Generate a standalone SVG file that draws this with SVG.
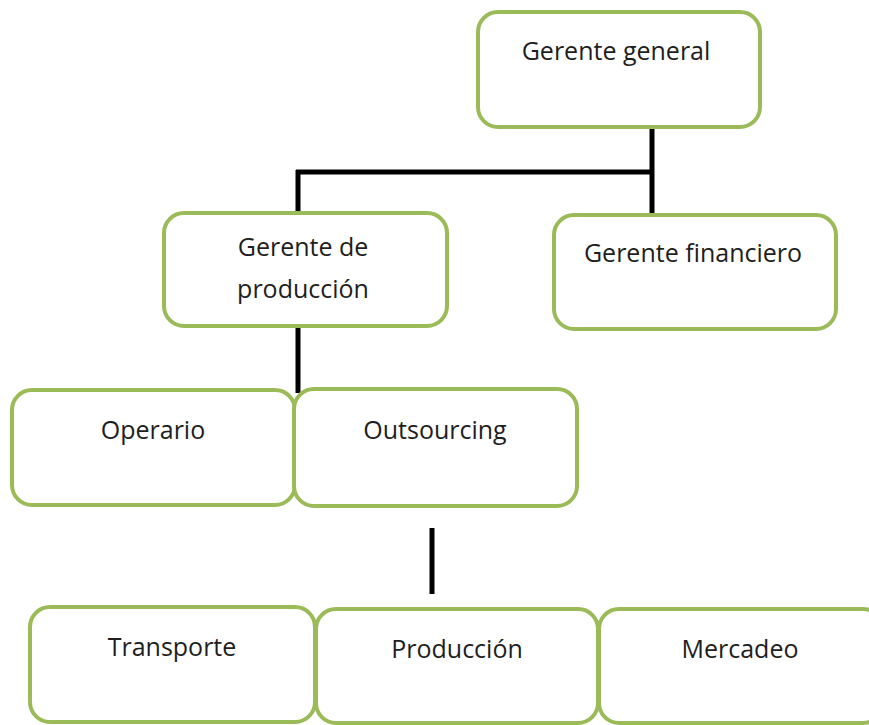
<svg xmlns="http://www.w3.org/2000/svg" width="869" height="725" viewBox="0 0 869 725">
  <style>
    .box { fill: #ffffff; stroke: #9bbb59; stroke-width: 4; }
    .label { font-family: "Open Sans", "Liberation Sans", sans-serif; font-size: 25px; fill: #1e1e1e; text-anchor: middle; }
    .link { stroke: #000000; stroke-width: 5; fill: none; }
  </style>
  <rect width="869" height="725" fill="#ffffff"/>

  <!-- reporting lines -->
  <g id="connectors">
    <path class="link" d="M652 127 V215"/>
    <path class="link" d="M296 172 H654"/>
    <path class="link" d="M298 170 V213"/>
    <path class="link" d="M298 325 V393"/>
    <path class="link" d="M432 528 V594"/>
  </g>

  <g id="gerente-general">
    <rect class="box" x="478" y="12" width="282" height="115" rx="20"/>
    <text class="label" x="616" y="60">Gerente general</text>
  </g>

  <g id="gerente-produccion">
    <rect class="box" x="164" y="213" width="283" height="113" rx="20"/>
    <text class="label" x="303" y="256">Gerente de</text>
    <text class="label" x="303" y="298">producción</text>
  </g>

  <g id="gerente-financiero">
    <rect class="box" x="554" y="215" width="282" height="114" rx="20"/>
    <text class="label" x="693" y="262">Gerente financiero</text>
  </g>

  <g id="operario">
    <rect class="box" x="12" y="390" width="283" height="115" rx="20"/>
    <text class="label" x="153" y="439">Operario</text>
  </g>

  <g id="outsourcing">
    <rect class="box" x="294" y="389" width="283" height="117" rx="20"/>
    <text class="label" x="435" y="439">Outsourcing</text>
  </g>

  <g id="transporte">
    <rect class="box" x="30" y="607" width="285" height="115" rx="20"/>
    <text class="label" x="172" y="656">Transporte</text>
  </g>

  <g id="produccion">
    <rect class="box" x="316" y="609" width="282" height="114" rx="20"/>
    <text class="label" x="457" y="658">Producción</text>
  </g>

  <g id="mercadeo">
    <rect class="box" x="599" y="609" width="284" height="114" rx="20"/>
    <text class="label" x="740" y="658">Mercadeo</text>
  </g>
</svg>
